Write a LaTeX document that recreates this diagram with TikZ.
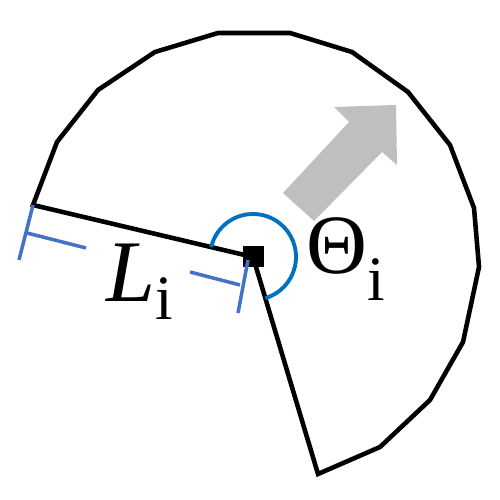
\documentclass[tikz,border=0pt]{standalone}
\usepackage{fontspec}
\setmainfont{Liberation Serif}
\definecolor{winkelblau}{HTML}{0070C0}
\definecolor{massblau}{HTML}{4472C4}
\definecolor{pfeilgrau}{HTML}{BFBFBF}
\begin{document}
\begin{tikzpicture}[
	kontur/.style={line width=2.6pt},
	mass/.style={line width=2pt,color=massblau},
	winkel/.style={line width=2.2pt,color=winkelblau},
	beschr/.style={anchor=base west,inner sep=0pt}]
	\useasboundingbox (0,0) rectangle (10,10);
	\coordinate (O) at (5.06,4.86);%Mittelpunkt
	\coordinate (P) at (0.66,5.90);%linker Radius
	\coordinate (Q) at (6.36,0.52);%unterer Radius
	\draw[kontur] (Q) -- (7.60,1.06) -- (8.60,2.00) -- (9.26,3.16) -- (9.58,4.66) -- (9.48,5.84)
		-- (9.00,7.10) -- (8.16,8.16) -- (7.04,8.96) -- (5.80,9.34) -- (4.36,9.34)
		-- (3.10,8.96) -- (1.96,8.20) -- (1.14,7.16) -- (P) -- (O) -- cycle;%Kontur
	\fill[pfeilgrau] (5.66,6.14) -- (6.98,7.56) -- (6.68,7.86) -- (7.92,7.90)
		-- (7.94,6.70) -- (7.64,6.96) -- (6.28,5.58) -- cycle;%Richtungspfeil
	\draw[winkel] (O) ++(166.7:0.86) arc (166.7:-73.3:0.86);%Winkelbogen
	\draw[mass] (P) -- (0.38,4.80);%Massstrich links
	\draw[mass] (0.54,5.34) -- (1.72,5.04);%Masslinie links
	\draw[mass] (3.80,4.56) -- (4.80,4.30);%Masslinie rechts
	\node[fill=black,minimum size=0.42cm,inner sep=0pt] (M) at (O) {};%Quadrat
	\draw[mass] (4.96,4.80) -- (4.76,3.74);%Massstrich rechts
	\node[beschr] (L) at (2.12,3.96) {\fontsize{50}{50}\selectfont\textit{L}\raisebox{-0.36cm}{\fontsize{36}{36}\selectfont i}};
	\node[beschr] (T) at (6.12,4.52) {\fontsize{48}{48}\selectfont Θ\raisebox{-0.54cm}{\fontsize{36}{36}\selectfont i}};
\end{tikzpicture}
\end{document}
